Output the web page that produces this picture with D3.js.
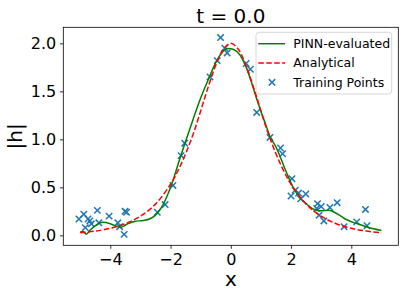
<!DOCTYPE html>
<html>
<head>
<meta charset="utf-8">
<script src="https://cdn.jsdelivr.net/npm/d3@7"></script>
<style>
  body { margin: 0; background: #fff; }
  svg text { font-family: "DejaVu Sans", sans-serif; fill: #000; }
</style>
</head>
<body>
<svg id="chart" width="405" height="297"></svg>
<script>
// training points
const trainX = [-5.04, -4.88, -4.83, -4.74, -4.68, -4.63, -4.43, -4.38, -4.04, -3.75, -3.69, -3.54, -3.51, -3.46,
  -2.44, -2.18, -1.92, -1.65, -1.53, -0.69, -0.45, -0.34, -0.20, -0.12, 0.51, 0.65, 0.86, 1.30, 1.65, 1.72,
  2.03, 2.00, 2.14, 2.25, 2.32, 2.49, 2.88, 3.00, 2.85, 2.93, 3.09, 3.29, 3.53, 3.76, 4.18, 4.47, 4.52];
const trainY = [0.17, 0.22, 0.08, 0.17, 0.15, 0.12, 0.26, 0.13, 0.20, 0.13, 0.09, 0.01, 0.25, 0.24,
  0.24, 0.32, 0.52, 0.83, 0.96, 1.65, 1.82, 2.06, 1.95, 1.90, 1.79, 1.73, 1.28, 1.02, 0.91, 0.85,
  0.59, 0.41, 0.47, 0.44, 0.38, 0.43, 0.33, 0.30, 0.28, 0.21, 0.15, 0.29, 0.34, 0.09, 0.14, 0.27, 0.10];

// PINN output
const pinnX = [-5.0, -4.9, -4.8, -4.65, -4.45, -4.25, -4.0, -3.8, -3.65, -3.45, -3.2, -2.9, -2.7, -2.5, -2.3,
  -2.1, -1.9, -1.7, -1.5, -1.25, -1.0, -0.75, -0.5, -0.3, -0.1, 0.1, 0.3, 0.5, 0.7, 0.85, 1.0, 1.15, 1.3,
  1.5, 1.65, 1.8, 1.95, 2.1, 2.3, 2.5, 2.7, 2.85, 3.0, 3.25, 3.5, 3.8, 4.1, 4.4, 4.7, 5.0];
const pinnY = [0.035, 0.04, 0.012, 0.06, 0.11, 0.135, 0.12, 0.095, 0.085, 0.115, 0.145, 0.155, 0.17, 0.21, 0.29,
  0.42, 0.59, 0.79, 0.98, 1.21, 1.43, 1.62, 1.80, 1.90, 1.945, 1.935, 1.88, 1.76, 1.58, 1.43, 1.29, 1.16, 1.03,
  0.92, 0.81, 0.69, 0.58, 0.48, 0.39, 0.33, 0.28, 0.262, 0.256, 0.26, 0.23, 0.17, 0.13, 0.10, 0.07, 0.05];

// analytical curve
const anaX = [-5.0, -4.5, -4.0, -3.5, -3.0, -2.5, -2.0, -1.75, -1.5, -1.25, -1.0, -0.75, -0.5, -0.25, 0.0,
  0.25, 0.5, 0.75, 1.0, 1.25, 1.5, 1.75, 2.0, 2.5, 3.0, 3.5, 4.0, 4.5, 5.0];
const anaY = [0.027, 0.044, 0.073, 0.121, 0.199, 0.325, 0.532, 0.675, 0.850, 1.053, 1.296, 1.546, 1.773, 1.938, 2.0,
  1.938, 1.773, 1.546, 1.296, 1.053, 0.850, 0.675, 0.532, 0.325, 0.199, 0.121, 0.073, 0.044, 0.027];

const xTicks = [-4, -2, 0, 2, 4];
const yTicks = [0.0, 0.5, 1.0, 1.5, 2.0];

const margin = {top: 27.3, right: 6.7, bottom: 51.7, left: 63.3};
const width = 405 - margin.left - margin.right;
const height = 297 - margin.top - margin.bottom;

const svg = d3.select("#chart");
const g = svg.append("g").attr("transform", `translate(${margin.left},${margin.top})`);

const x = d3.scaleLinear().domain([-5.56, 5.56]).range([0, width]);
const y = d3.scaleLinear().domain([-0.104, 2.167]).range([height, 0]);

// axes
const xAxis = g.append("g").attr("transform", `translate(0,${height})`)
  .call(d3.axisBottom(x).tickValues(xTicks).tickSize(3.5).tickPadding(3.5)
    .tickFormat(d => d3.format("d")(d).replace("-", "\u2212")));
const yAxis = g.append("g")
  .call(d3.axisLeft(y).tickValues(yTicks).tickSize(3.5).tickPadding(3.5).tickFormat(d3.format(".1f")));
[xAxis, yAxis].forEach(a => {
  a.select(".domain").remove();
  a.selectAll("line").attr("stroke", "#000").attr("stroke-width", 0.8);
  a.selectAll("text").style("font-size", "16px").attr("fill", "#000");
});
xAxis.selectAll("text").attr("dy", "0.78em");

// training points
const ms = 3.2;
const pts = g.append("g").selectAll("path")
  .data(trainX.map((v, i) => [v, trainY[i]]))
  .join("path")
  .attr("d", d => {
    const cx = x(d[0]), cy = y(d[1]);
    return `M${cx - ms},${cy - ms}L${cx + ms},${cy + ms}M${cx - ms},${cy + ms}L${cx + ms},${cy - ms}`;
  })
  .attr("stroke", "#1f77b4").attr("stroke-width", 1.5);

const line = d3.line().x(d => x(d[0])).y(d => y(d[1])).curve(d3.curveMonotoneX);

g.append("path")
  .datum(pinnX.map((v, i) => [v, pinnY[i]]))
  .attr("d", line)
  .attr("fill", "none").attr("stroke", "green").attr("stroke-width", 1.5);

g.append("path")
  .datum(anaX.map((v, i) => [v, anaY[i]]))
  .attr("d", line.curve(d3.curveCatmullRom))
  .attr("fill", "none").attr("stroke", "red").attr("stroke-width", 1.5)
  .attr("stroke-dasharray", "5.55,2.4");

// frame
g.append("rect").attr("width", width).attr("height", height)
  .attr("fill", "none").attr("stroke", "#000").attr("stroke-width", 0.8);

// title and labels
svg.append("text").attr("x", margin.left + width / 2).attr("y", 22.5)
  .attr("text-anchor", "middle").style("font-size", "20px").text("t = 0.0");
svg.append("text").attr("x", margin.left + width / 2).attr("y", 286)
  .attr("text-anchor", "middle").style("font-size", "20px").text("x");
svg.append("text")
  .attr("transform", `translate(22,${margin.top + height / 2}) rotate(-90)`)
  .attr("text-anchor", "middle").style("font-size", "20px").text("|h|");

// legend
const leg = svg.append("g").attr("transform", "translate(256,32.3)");
leg.append("rect").attr("width", 135.7).attr("height", 61.7).attr("rx", 3)
  .attr("fill", "#fff").attr("fill-opacity", 0.8).attr("stroke", "#cccccc").attr("stroke-width", 0.8);
const items = [
  {label: "PINN-evaluated", kind: "green"},
  {label: "Analytical", kind: "red"},
  {label: "Training Points", kind: "pts"}
];
items.forEach((it, i) => {
  const cy = 11.4 + i * 19.3;
  if (it.kind === "green") {
    leg.append("line").attr("x1", 2.3).attr("x2", 29).attr("y1", cy).attr("y2", cy)
      .attr("stroke", "green").attr("stroke-width", 1.5);
  } else if (it.kind === "red") {
    leg.append("line").attr("x1", 2.3).attr("x2", 29).attr("y1", cy).attr("y2", cy)
      .attr("stroke", "red").attr("stroke-width", 1.5).attr("stroke-dasharray", "5.55,2.4");
  } else {
    const cx = 16;
    leg.append("path")
      .attr("d", `M${cx - ms},${cy - ms}L${cx + ms},${cy + ms}M${cx - ms},${cy + ms}L${cx + ms},${cy - ms}`)
      .attr("stroke", "#1f77b4").attr("stroke-width", 1.5);
  }
  leg.append("text").attr("x", 37.3).attr("y", cy + 4.3).style("font-size", "12.5px").text(it.label);
});
</script>
</body>
</html>
